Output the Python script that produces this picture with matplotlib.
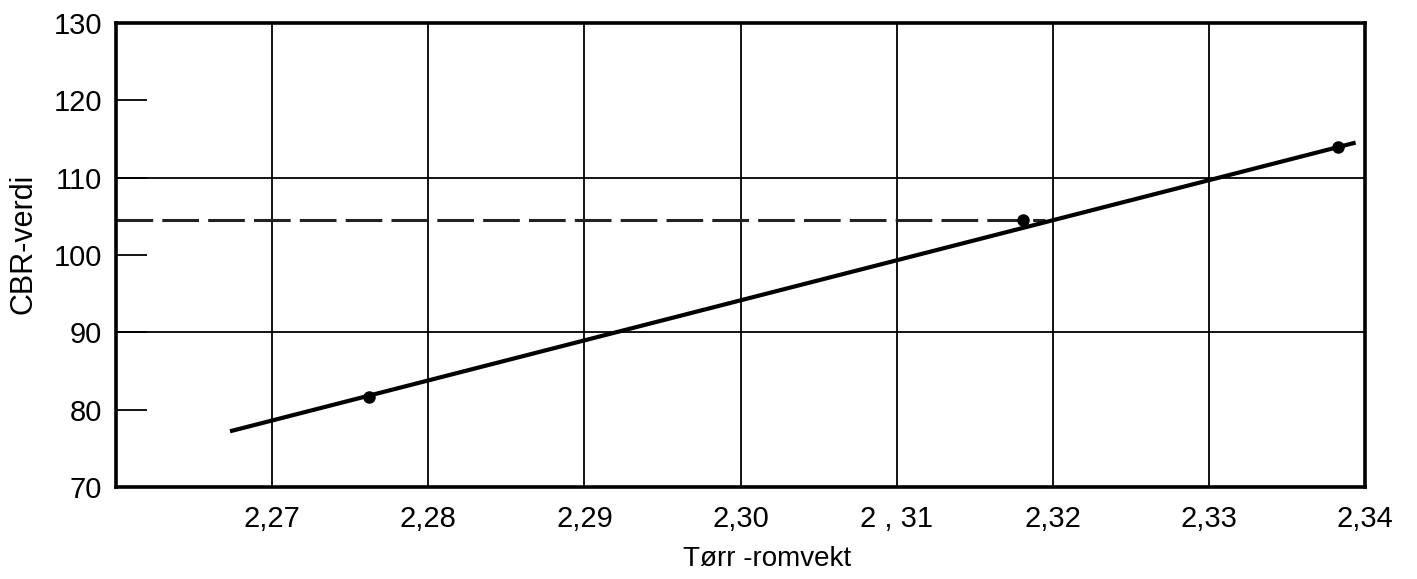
import matplotlib.pyplot as plt
import numpy as np

plt.rcParams['font.family'] = ['Liberation Sans', 'DejaVu Sans']

# measured points (dry density, CBR)
dens = [2.2762, 2.3181, 2.3383]
cbr = [81.7, 104.5, 114.0]

# fitted straight line, drawn between its two end points
line_x = [2.2673, 2.3394]
line_y = [77.2, 114.55]

# reading of CBR at the required density
cbr_read = 104.5
dens_read = 2.3195

xticks = [2.26, 2.27, 2.28, 2.29, 2.30, 2.31, 2.32, 2.33, 2.34]
xlabels = ['', '2,27', '2,28', '2,29', '2,30', '2 , 31', '2,32', '2,33', '2,34']
yticks = [70, 80, 90, 100, 110, 120, 130]

fig = plt.figure(figsize=(14.17, 5.79), dpi=100)
ax = fig.add_axes([0.0819, 0.159, 0.8814, 0.801])

# vertical grid at every tick, horizontal only at 90 and 110
for x in xticks[1:-1]:
    ax.axvline(x, color='k', lw=1.3, zorder=1)
for y in [90, 110]:
    ax.axhline(y, color='k', lw=1.3, zorder=1)

ax.plot([2.26, dens_read], [cbr_read, cbr_read], color='#222222', lw=2.2,
        dashes=[12, 3], zorder=2)
ax.plot(line_x, line_y, color='k', lw=3, solid_capstyle='butt', zorder=3)
ax.plot(dens, cbr, 'o', color='k', ms=8, zorder=4)

ax.set_xlim(2.26, 2.34)
ax.set_ylim(70, 130)
ax.set_xticks(xticks)
ax.set_xticklabels(xlabels)
ax.set_yticks(yticks)
ax.tick_params(axis='x', length=0, pad=13, labelsize=21)
ax.tick_params(axis='y', direction='in', length=22, width=1.3, pad=10, labelsize=21)

for s in ax.spines.values():
    s.set_linewidth(2.6)

ax.set_xlabel('Tørr -romvekt', fontsize=20)
ax.xaxis.set_label_coords(0.521, -0.128)
ax.set_ylabel('CBR-verdi', fontsize=22)
ax.yaxis.set_label_coords(-0.062, 0.524)

fig.savefig('out.png', dpi=100)
